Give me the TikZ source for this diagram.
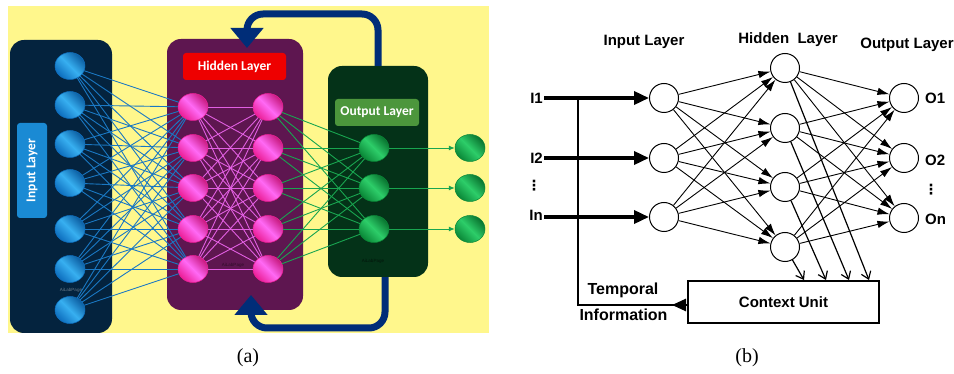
\documentclass[tikz,border=0pt]{standalone}
\usepackage{fontspec}
\setmainfont{Liberation Serif}
\newfontfamily\arialfont{Liberation Sans}
\newfontfamily\calfont{Carlito}
\newfontfamily\dotsfont{DejaVu Sans}
\usetikzlibrary{arrows.meta,shapes.geometric}
% colours of panel (a)
\definecolor{bgyellow}{RGB}{255,247,140}
\definecolor{inbox}{RGB}{4,35,62}
\definecolor{hidbox}{RGB}{94,22,80}
\definecolor{outbox}{RGB}{4,50,24}
\definecolor{fbblue}{RGB}{0,45,120}
\definecolor{inlab}{RGB}{26,138,212}
\definecolor{hidlab}{RGB}{238,0,0}
\definecolor{outlab}{RGB}{76,150,60}
\definecolor{bluedk}{RGB}{14,110,190}
\definecolor{bluelt}{RGB}{55,175,240}
\definecolor{pinkdk}{RGB}{235,30,150}
\definecolor{pinklt}{RGB}{255,105,245}
\definecolor{greendk}{RGB}{10,135,55}
\definecolor{greenlt}{RGB}{45,205,105}
\definecolor{blueline}{RGB}{26,120,195}
\definecolor{pinkline}{RGB}{225,95,225}
\definecolor{greenline}{RGB}{25,165,80}
\begin{document}
\begin{tikzpicture}[x=1pt,y=-1pt,>=Latex,
    layerbox/.style={rounded corners=14pt,inner sep=0pt},
    laybl/.style={rounded corners=3pt,inner sep=0pt,text=white,
        font=\calfont\bfseries\fontsize{13.5}{16}\selectfont},
    neuron/.style={ellipse,minimum width=30pt,minimum height=27pt,inner sep=0pt,line width=0.5pt},
    bluenode/.style={neuron,draw=bluedk,left color=bluedk,right color=bluedk!85!black,
        middle color=bluelt,shading angle=135},
    pinknode/.style={neuron,draw=pinkdk,left color=pinkdk,right color=pinkdk!85!black,
        middle color=pinklt,shading angle=135},
    greennode/.style={neuron,draw=greendk,left color=greendk,right color=greendk!85!black,
        middle color=greenlt,shading angle=135},
    wmark/.style={font=\arialfont\fontsize{4.5}{5}\selectfont,text=#1},
    caption/.style={font=\fontsize{20}{24}\selectfont},
    % panel (b)
    btext/.style={font=\arialfont\bfseries\fontsize{15}{18}\selectfont,inner sep=1pt},
    vdotsnode/.style={font=\dotsfont\bfseries\fontsize{14}{14}\selectfont,inner sep=0pt},
    cell/.style={circle,draw,line width=1pt,minimum size=29pt,inner sep=0pt,fill=white},
    link/.style={line width=0.9pt,-{Latex[length=12pt,width=7.5pt]}},
    inarrow/.style={line width=3.5pt,-{Triangle[length=15pt,width=13pt]}},
    bus/.style={line width=2.5pt},
    ctxarrow/.style={line width=1.2pt,-{Straight Barb[length=7pt,width=10pt]}}]
\useasboundingbox (0,0) rectangle (954,374);

%%%%%%%% (a)
\fill[bgyellow] (8,6) rectangle (489,333);
\node[layerbox,fill=inbox,minimum width=102pt,minimum height=293pt] (ibox) at (61,186.5) {};
\node[layerbox,fill=hidbox,minimum width=136pt,minimum height=271pt] (hbox) at (235,174.5) {};
\node[layerbox,fill=outbox,minimum width=100pt,minimum height=211pt] (obox) at (378,171.5) {};
% labels
\node[laybl,fill=inlab,minimum width=95pt,minimum height=30pt,rotate=90] (ilab) at (32,170.5) {Input Layer};
\node[laybl,fill=hidlab,minimum width=103pt,minimum height=27pt] (hlab) at (234.5,66.5) {Hidden Layer};
\node[laybl,fill=outlab,minimum width=84pt,minimum height=27pt] (olab) at (377,112.5) {Output Layer};
\node[wmark=inbox!60!white] (wm1) at (71,290) {AiLabPage};
\node[wmark=hidbox!50!black] (wm2) at (233,265) {AiLabPage};
\node[wmark=outbox!40!black] (wm3) at (373,261) {AiLabPage};
% feedback loops
\coordinate (fbtop) at (247,14);
\coordinate (fbin) at (247,48);
\coordinate (fbbot) at (251,328);
\coordinate (fbup) at (251,295);
\draw[fbblue,line width=7pt,rounded corners=16pt,-{Triangle[length=20pt,width=32pt]}]
    (obox.north) |- (fbtop) -- (fbin);
\draw[fbblue,line width=7pt,rounded corners=16pt,-{Triangle[length=20pt,width=32pt]}]
    ([xshift=7pt]obox.south) |- (fbbot) -- (fbup);
% neurons
\foreach \y [count=\i] in {66,105,144,183,229,269,310}
    \node[bluenode] (a-in\i) at (70,\y) {};
\foreach \y [count=\i] in {107,148,188,229,269}{
    \node[pinknode] (a-ha\i) at (193,\y) {};
    \node[pinknode] (a-hb\i) at (268,\y) {};
}
\foreach \y [count=\i] in {148,188,229}{
    \node[greennode] (a-out\i) at (374,\y) {};
    \node[greennode] (a-res\i) at (470,\y) {};
}
% weights
\foreach \i in {1,...,7}
    \foreach \j in {1,...,5}
        \draw[blueline,line width=0.9pt] (a-in\i) -- (a-ha\j);
\foreach \i in {1,...,5}
    \foreach \j in {1,...,5}
        \draw[pinkline,line width=0.9pt] (a-ha\i) -- (a-hb\j);
\foreach \i in {1,...,5}
    \foreach \j in {1,2,3}
        \draw[greenline,line width=0.9pt] (a-hb\i) -- (a-out\j);
\foreach \i in {1,2,3}
    \draw[greenline,line width=0.9pt,-{Latex[length=6pt,width=5pt]}] (a-out\i) -- (a-res\i);
\node[caption] (capa) at (248,358) {(a)};

%%%%%%%% (b)
\node[btext] (b-tin) at (644,42) {Input Layer};
\node[btext] (b-thid) at (788,40) {Hidden\ \ Layer};
\node[btext] (b-tout) at (907,45) {Output Layer};
% cells
\foreach \y [count=\i] in {98,158,217}
    \node[cell] (b-in\i) at (664,\y) {};
\foreach \y [count=\i] in {68,128,187,247}
    \node[cell] (b-h\i) at (785,\y) {};
\foreach \y [count=\i] in {98,158,218}
    \node[cell] (b-o\i) at (904,\y) {};
\foreach \i in {1,2,3}
    \foreach \j in {1,...,4}{
        \draw[link] (b-in\i) -- (b-h\j);
        \draw[link] (b-h\j) -- (b-o\i);
    }
% inputs and outputs
\node[btext,anchor=east] (b-l1) at (544,98) {I1};
\node[btext,anchor=east] (b-l2) at (544,158) {I2};
\node[vdotsnode] (b-ldots) at (534,186) {⋮};
\node[btext,anchor=east] (b-ln) at (544,215) {In};
\node[btext,anchor=west] (b-r1) at (924,98) {O1};
\node[btext,anchor=west] (b-r2) at (924,160) {O2};
\node[vdotsnode] (b-rdots) at (931,190) {⋮};
\node[btext,anchor=west] (b-rn) at (924,219) {On};
\draw[inarrow] (b-l1.east |- b-in1) -- (b-in1);
\draw[inarrow] (b-l2.east |- b-in2) -- (b-in2);
\draw[inarrow] (b-ln.east |- b-in3) -- (b-in3);
% context unit
\node[draw,line width=2pt,minimum width=191pt,minimum height=42pt,btext] (ctx) at (783.5,302) {Context Unit};
\draw[ctxarrow] (b-h4) -- ([xshift=117pt]ctx.north west);
\draw[ctxarrow] (b-h3) -- ([xshift=139pt]ctx.north west);
\draw[ctxarrow] (b-h2) -- ([xshift=162pt]ctx.north west);
\draw[ctxarrow] (b-h1) -- ([xshift=182pt]ctx.north west);
\coordinate (b-fork) at (578,98);
\coordinate (b-corner) at (578,305);
\draw[bus] (b-fork) -- (b-corner) -- (ctx.west |- b-corner);
\draw[bus,-{Triangle[length=14pt,width=12pt]}] (ctx.west |- b-corner) -- ++(-15,0);
\node[btext,font=\arialfont\bfseries\fontsize{16}{19}\selectfont] (b-temp) at (623,290) {Temporal};
\node[btext,font=\arialfont\bfseries\fontsize{16}{19}\selectfont] (b-info) at (623.5,315) {Information};
\node[caption] (capb) at (747,358) {(b)};
\end{tikzpicture}
\end{document}
